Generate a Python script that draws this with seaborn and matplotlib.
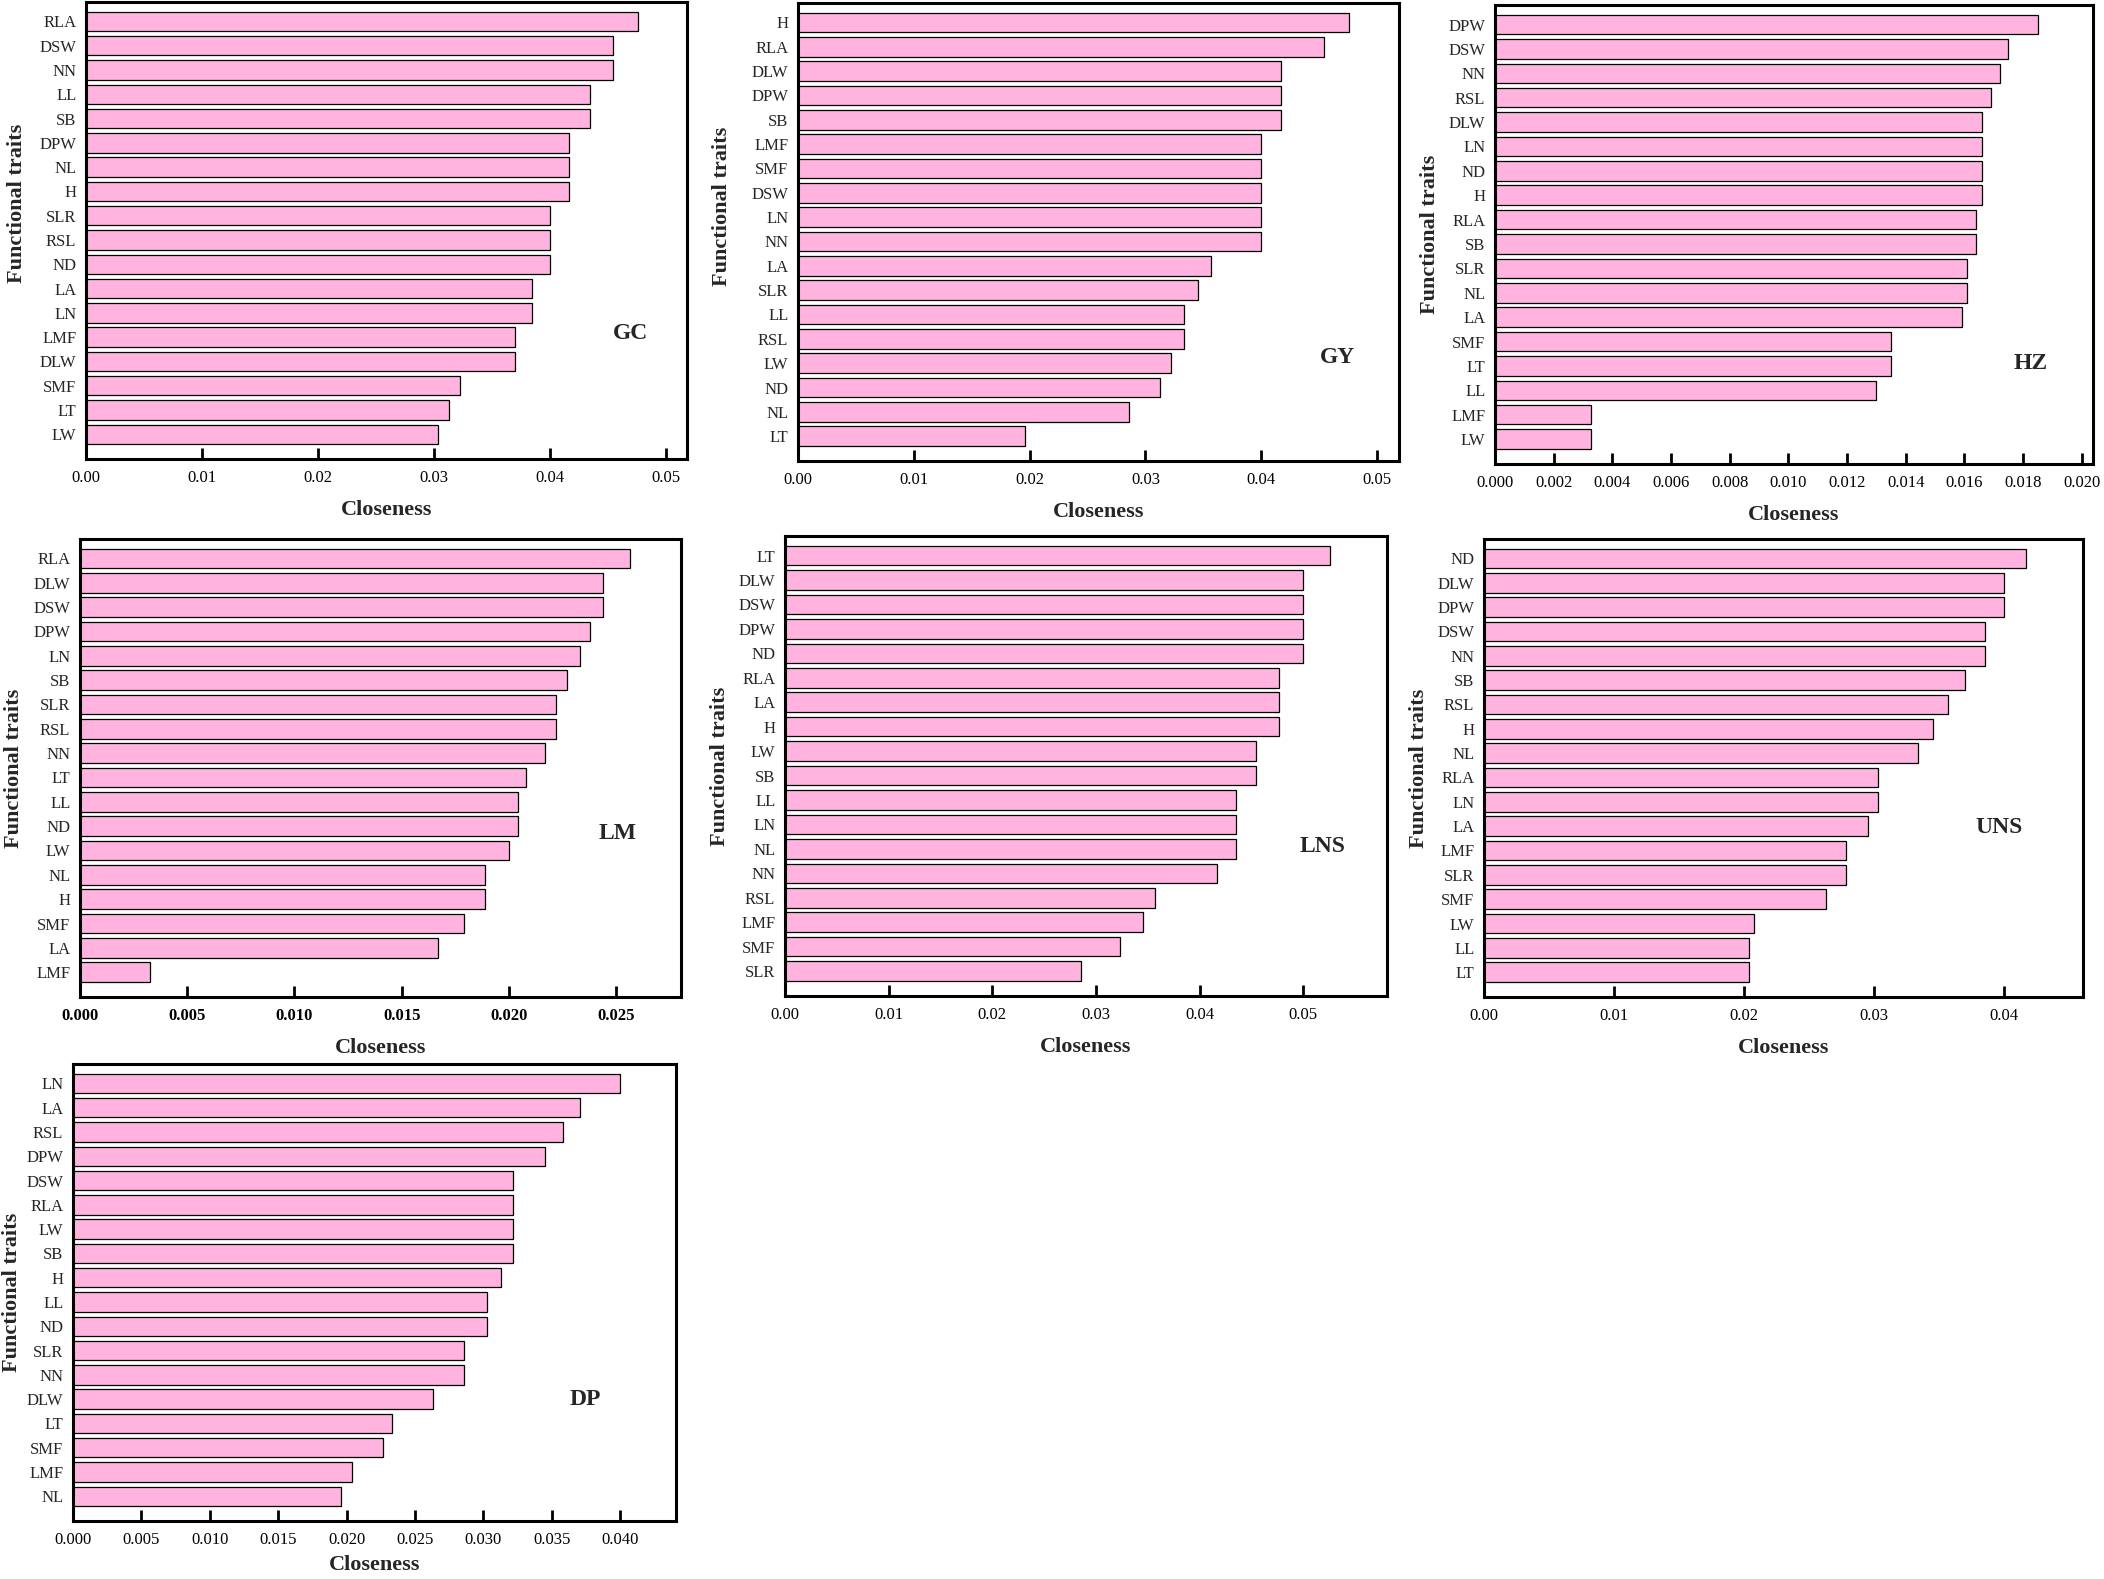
import matplotlib
matplotlib.use("Agg")
import matplotlib.pyplot as plt
import seaborn as sns
from matplotlib.ticker import MultipleLocator, FormatStrFormatter

# ---- data ----
gc_traits = ["RLA", "DSW", "NN", "LL", "SB", "DPW", "NL", "H", "SLR", "RSL",
             "ND", "LA", "LN", "LMF", "DLW", "SMF", "LT", "LW"]
gc_values = [0.0476, 0.0454, 0.0454, 0.0434, 0.0434, 0.0416, 0.0416, 0.0416, 0.0400,
             0.0400, 0.0400, 0.0384, 0.0384, 0.0370, 0.0370, 0.0322, 0.0313, 0.0303]

gy_traits = ["H", "RLA", "DLW", "DPW", "SB", "LMF", "SMF", "DSW", "LN", "NN",
             "LA", "SLR", "LL", "RSL", "LW", "ND", "NL", "LT"]
gy_values = [0.0476, 0.0454, 0.0417, 0.0417, 0.0417, 0.0400, 0.0400, 0.0400, 0.0400,
             0.0400, 0.0357, 0.0345, 0.0333, 0.0333, 0.0322, 0.0313, 0.0286, 0.0196]

hz_traits = ["DPW", "DSW", "NN", "RSL", "DLW", "LN", "ND", "H", "RLA", "SB",
             "SLR", "NL", "LA", "SMF", "LT", "LL", "LMF", "LW"]
hz_values = [0.0185, 0.0175, 0.0172, 0.0169, 0.0166, 0.0166, 0.0166, 0.0166, 0.0164,
             0.0164, 0.0161, 0.0161, 0.0159, 0.0135, 0.0135, 0.0130, 0.00328, 0.00328]

lm_traits = ["RLA", "DLW", "DSW", "DPW", "LN", "SB", "SLR", "RSL", "NN", "LT",
             "LL", "ND", "LW", "NL", "H", "SMF", "LA", "LMF"]
lm_values = [0.02565, 0.0244, 0.0244, 0.0238, 0.0233, 0.0227, 0.0222, 0.0222, 0.0217,
             0.0208, 0.0204, 0.0204, 0.0200, 0.0189, 0.0189, 0.0179, 0.0167, 0.00325]

lns_traits = ["LT", "DLW", "DSW", "DPW", "ND", "RLA", "LA", "H", "LW", "SB",
              "LL", "LN", "NL", "NN", "RSL", "LMF", "SMF", "SLR"]
lns_values = [0.0526, 0.0500, 0.0500, 0.0500, 0.0500, 0.0476, 0.0476, 0.0476, 0.0454,
              0.0454, 0.0435, 0.0435, 0.0435, 0.0417, 0.0357, 0.0345, 0.0323, 0.0285]

uns_traits = ["ND", "DLW", "DPW", "DSW", "NN", "SB", "RSL", "H", "NL", "RLA",
              "LN", "LA", "LMF", "SLR", "SMF", "LW", "LL", "LT"]
uns_values = [0.0417, 0.0400, 0.0400, 0.0385, 0.0385, 0.0370, 0.0357, 0.0345, 0.0334,
              0.0303, 0.0303, 0.0295, 0.0278, 0.0278, 0.0263, 0.0208, 0.0204, 0.0204]

dp_traits = ["LN", "LA", "RSL", "DPW", "DSW", "RLA", "LW", "SB", "H", "LL",
             "ND", "SLR", "NN", "DLW", "LT", "SMF", "LMF", "NL"]
dp_values = [0.0400, 0.0371, 0.0358, 0.0345, 0.0322, 0.0322, 0.0322, 0.0322, 0.0313,
             0.0303, 0.0303, 0.0286, 0.0286, 0.0263, 0.0233, 0.0227, 0.0204, 0.0196]

# ---- layout: (name, traits, values, box px [l, t, r, b], xmax, tick step, fmt,
#               label pos (axes frac), bold x ticks, ylabel centre (px offset, y frac),
#               xlabel pad) ----
W, H = 2104, 1579
panels = [
    ("GC", gc_traits, gc_values, (86, 2, 687, 459), 0.0518, 0.01, "%.2f",
     (0.906, 0.274), False, (-69, 0.56), 10),
    ("GY", gy_traits, gy_values, (798, 3, 1399, 461), 0.0519, 0.01, "%.2f",
     (0.898, 0.227), False, (-76, 0.557), 10),
    ("HZ", hz_traits, hz_values, (1495, 5, 2093, 464), 0.02038, 0.002, "%.3f",
     (0.895, 0.218), False, (-65, 0.5), 10),
    ("LM", lm_traits, lm_values, (80, 539, 681, 997), 0.02802, 0.005, "%.3f",
     (0.895, 0.358), True, (-66, 0.5), 10),
    ("LNS", lns_traits, lns_values, (785, 536, 1387, 996), 0.05806, 0.01, "%.2f",
     (0.893, 0.324), False, (-65, 0.5), 10),
    ("UNS", uns_traits, uns_values, (1484, 539, 2083, 997), 0.04606, 0.01, "%.2f",
     (0.86, 0.369), False, (-65, 0.5), 10),
    ("DP", dp_traits, dp_values, (73, 1064, 676, 1521), 0.04409, 0.005, "%.3f",
     (0.85, 0.265), False, (-61, 0.5), 5),
]

sns.set_theme(style="white")
plt.rcParams.update({
    "font.family": ["Liberation Serif", "DejaVu Serif"],
    "axes.linewidth": 2.2,
    "axes.edgecolor": "black",
})

BAR_COLOR = "#FFB3DE"

fig = plt.figure(figsize=(W / 100, H / 100), dpi=100)

for (name, traits, values, (l, t, r, b), xmax, step, fmt, (lx, ly),
     bold_ticks, (ylab_dx, ylab_y), xpad) in panels:
    ax = fig.add_axes([l / W, 1 - b / H, (r - l) / W, (b - t) / H])
    sns.barplot(x=values, y=traits, orient="h", color=BAR_COLOR, saturation=1,
                edgecolor="black", linewidth=0.9, width=0.8, ax=ax)
    ax.set_xlim(0, xmax)
    ax.set_ylim(18.02, -0.8)
    ax.xaxis.set_major_locator(MultipleLocator(step))
    ax.xaxis.set_major_formatter(FormatStrFormatter(fmt))
    ax.tick_params(axis="x", direction="in", length=8, width=2, pad=8,
                   labelsize=12, colors="black", bottom=True, top=False)
    ax.tick_params(axis="y", length=0, pad=7, labelsize=12)
    if bold_ticks:
        for lab in ax.get_xticklabels():
            lab.set_fontweight("bold")
    for spine in ax.spines.values():
        spine.set_visible(True)
        spine.set_linewidth(2.2)
        spine.set_color("black")
    ax.set_xlabel("Closeness", fontsize=16, fontweight="bold", labelpad=xpad)
    ax.set_ylabel("Functional traits", fontsize=16, fontweight="bold",
                  va="center")
    ax.yaxis.set_label_coords(ylab_dx / (r - l), ylab_y)
    ax.text(lx, ly, name, transform=ax.transAxes, ha="center", va="center",
            fontsize=17, fontweight="bold")

fig.savefig("out.png", dpi=100)
